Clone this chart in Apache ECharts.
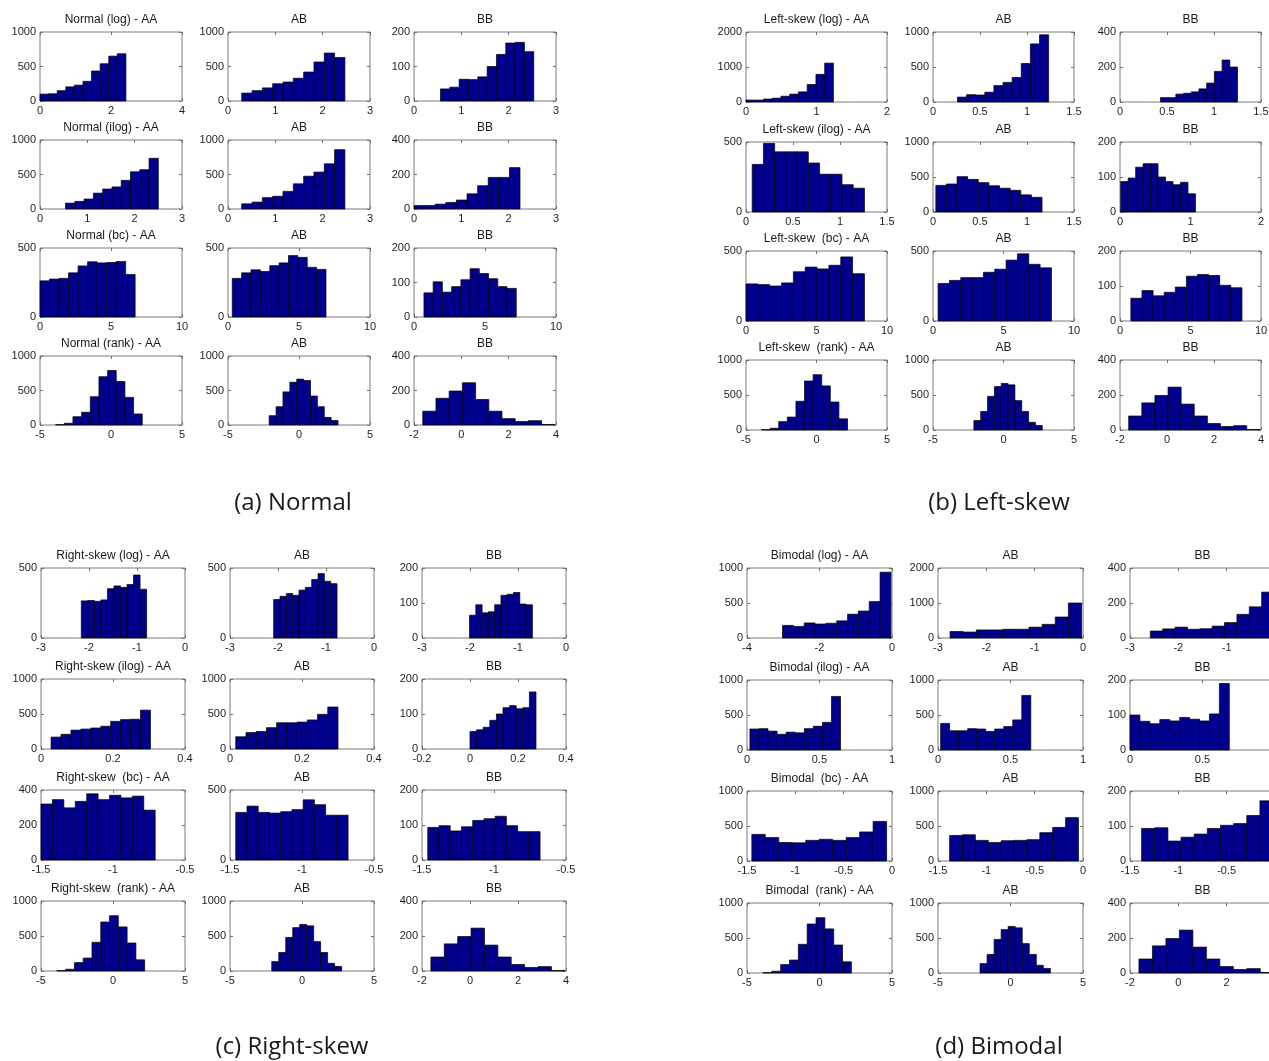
<!DOCTYPE html>
<html><head><meta charset="utf-8">
<script src="https://cdn.jsdelivr.net/npm/echarts@6/dist/echarts.min.js"></script>
<style>html,body{margin:0;padding:0;background:#fff}#c{width:1269px;height:1061px}</style>
</head><body><div id="c"></div><script>
// ---------- labels ----------
const panelLabels = ['(a) Normal', '(b) Left-skew', '(c) Right-skew', '(d) Bimodal'];
const rowTitlesA = ['Normal (log) - AA', 'Normal (ilog) - AA', 'Normal (bc) - AA', 'Normal (rank) - AA'];
const rowTitlesB = ['Left-skew (log) - AA', 'Left-skew (ilog) - AA', 'Left-skew  (bc) - AA', 'Left-skew  (rank) - AA'];
const rowTitlesC = ['Right-skew (log) - AA', 'Right-skew (ilog) - AA', 'Right-skew  (bc) - AA', 'Right-skew  (rank) - AA'];
const rowTitlesD = ['Bimodal (log) - AA', 'Bimodal (ilog) - AA', 'Bimodal  (bc) - AA', 'Bimodal  (rank) - AA'];
const colTitles = [null, 'AB', 'BB'];

// ---------- histogram counts (10 bins each) ----------
const normLogAA = [100, 105, 150, 205, 230, 285, 435, 540, 650, 685];
const normLogAB = [115, 150, 190, 250, 275, 330, 420, 565, 695, 630];
const normLogBB = [35, 40, 63, 62, 70, 100, 135, 168, 170, 143];
const normIlogAA = [85, 110, 145, 230, 290, 320, 415, 540, 570, 735];
const normIlogAB = [75, 100, 165, 185, 255, 365, 475, 535, 655, 860];
const normIlogBB = [20, 20, 28, 38, 52, 88, 135, 183, 183, 240];
const normBcAA = [262, 275, 280, 320, 370, 400, 392, 395, 402, 308];
const normBcAB = [280, 320, 342, 330, 372, 392, 445, 432, 360, 345];
const normBcBB = [70, 102, 72, 88, 108, 140, 126, 111, 88, 83];

const lsLogAA = [55, 55, 85, 110, 165, 225, 290, 500, 790, 1110];
const lsLogAB = [70, 105, 100, 140, 235, 280, 350, 550, 830, 960];
const lsLogBB = [25, 25, 45, 50, 58, 75, 108, 175, 240, 200];
const lsIlogAA = [340, 490, 430, 430, 430, 350, 270, 270, 195, 170];
const lsIlogAB = [380, 400, 505, 465, 420, 375, 340, 310, 245, 210];
const lsIlogBB = [87, 97, 128, 138, 138, 100, 87, 78, 85, 52];
const lsBcAA = [265, 260, 250, 272, 352, 385, 372, 398, 458, 338];
const lsBcAB = [268, 290, 310, 310, 348, 370, 435, 480, 405, 380];
const lsBcBB = [65, 87, 72, 82, 97, 128, 133, 130, 102, 95];

const rsLogAA = [265, 268, 262, 272, 352, 372, 362, 382, 450, 348];
const rsLogAB = [275, 298, 318, 305, 342, 362, 418, 460, 405, 388];
const rsLogBB = [65, 95, 72, 75, 95, 122, 125, 130, 97, 95];
const rsIlogAA = [170, 210, 270, 285, 300, 325, 395, 420, 425, 555];
const rsIlogAB = [175, 235, 250, 305, 375, 375, 385, 415, 495, 600];
const rsIlogBB = [50, 55, 62, 82, 100, 118, 124, 115, 118, 163];
const rsBcAA = [320, 345, 298, 335, 378, 345, 370, 355, 365, 285];
const rsBcAB = [340, 385, 340, 335, 345, 360, 430, 395, 320, 320];
const rsBcBB = [93, 98, 83, 95, 113, 118, 125, 98, 81, 81];

const bmLogAA = [180, 165, 215, 200, 210, 245, 340, 385, 520, 940];
const bmLogAB = [185, 170, 230, 230, 250, 250, 310, 390, 600, 1000];
const bmLogBB = [40, 52, 62, 50, 53, 68, 88, 135, 178, 262];
const bmIlogAA = [300, 305, 270, 225, 255, 245, 305, 340, 395, 765];
const bmIlogAB = [380, 275, 275, 305, 300, 265, 300, 335, 430, 780];
const bmIlogBB = [100, 82, 75, 87, 83, 93, 88, 83, 103, 190];
const bmBcAA = [380, 335, 265, 260, 295, 310, 295, 335, 415, 565];
const bmBcAB = [365, 375, 295, 265, 290, 295, 305, 405, 480, 620];
const bmBcBB = [93, 95, 57, 68, 77, 93, 102, 107, 130, 172];

const rankAA = [5, 25, 120, 185, 410, 700, 790, 630, 400, 160];
const rankAB = [135, 265, 480, 620, 665, 645, 420, 265, 110, 65];
const rankBB = [80, 155, 197, 245, 148, 80, 37, 20, 25, 3];

// ---------- bin ranges [first edge, last edge] per row: AA, AB, BB ----------
const normRanges = [
  [[0, 2.42], [0.29, 2.47], [0.56, 2.53]],
  [[0.54, 2.5], [0.29, 2.47], [0.0, 2.24]],
  [[0, 6.7], [0.3, 6.9], [0.7, 7.2]]
];
const lsRanges = [
  [[0, 1.24], [0.26, 1.23], [0.43, 1.25]],
  [[0.066, 1.26], [0.03, 1.16], [0.01, 1.07]],
  [[0, 8.4], [0.36, 8.4], [0.77, 8.65]]
];
const rsRanges = [
  [[-2.16, -0.80], [-2.09, -0.77], [-2.01, -0.70]],
  [[0.028, 0.304], [0.016, 0.30], [0.0, 0.275]],
  [[-1.5, -0.707], [-1.46, -0.68], [-1.46, -0.68]]
];
const bmRanges = [
  [[-3.02, -0.03], [-2.75, -0.03], [-2.58, -0.02]],
  [[0.02, 0.645], [0.018, 0.64], [0.0, 0.685]],
  [[-1.45, -0.056], [-1.38, -0.047], [-1.38, -0.02]]
];
const rankRanges = [[-3.9, 2.2], [-2.1, 2.75], [-1.63, 3.95]];

// ---------- axis ticks: x [min,max,step], y [max,step] ----------
const rankXTicks = [[-5, 5, 5], [-5, 5, 5], [-2, 4, 2]];
const rankYTicks = [[1000, 500], [1000, 500], [400, 200]];
const normXTicks = [[[0, 4, 2], [0, 3, 1], [0, 3, 1]], [[0, 3, 1], [0, 3, 1], [0, 3, 1]], [[0, 10, 5], [0, 10, 5], [0, 10, 5]], rankXTicks];
const normYTicks = [[[1000, 500], [1000, 500], [200, 100]], [[1000, 500], [1000, 500], [400, 200]], [[500, 500], [500, 500], [200, 100]], rankYTicks];
const lsXTicks = [[[0, 2, 1], [0, 1.5, 0.5], [0, 1.5, 0.5]], [[0, 1.5, 0.5], [0, 1.5, 0.5], [0, 2, 1]], [[0, 10, 5], [0, 10, 5], [0, 10, 5]], rankXTicks];
const lsYTicks = [[[2000, 1000], [1000, 500], [400, 200]], [[500, 500], [1000, 500], [200, 100]], [[500, 500], [500, 500], [200, 100]], rankYTicks];
const rsXTicks = [[[-3, 0, 1], [-3, 0, 1], [-3, 0, 1]], [[0, 0.4, 0.2], [0, 0.4, 0.2], [-0.2, 0.4, 0.2]], [[-1.5, -0.5, 0.5], [-1.5, -0.5, 0.5], [-1.5, -0.5, 0.5]], rankXTicks];
const rsYTicks = [[[500, 500], [500, 500], [200, 100]], [[1000, 500], [1000, 500], [200, 100]], [[400, 200], [500, 500], [200, 100]], rankYTicks];
const bmXTicks = [[[-4, 0, 2], [-3, 0, 1], [-3, 0, 1]], [[0, 1, 0.5], [0, 1, 0.5], [0, 1, 0.5]], [[-1.5, 0, 0.5], [-1.5, 0, 0.5], [-1.5, 0, 0.5]], rankXTicks];
const bmYTicks = [[[1000, 500], [2000, 1000], [400, 200]], [[1000, 500], [1000, 500], [200, 100]], [[1000, 500], [1000, 500], [200, 100]], rankYTicks];

// ---------- assemble ----------
const quads = [
  { titles: rowTitlesA, counts: [[normLogAA, normLogAB, normLogBB], [normIlogAA, normIlogAB, normIlogBB], [normBcAA, normBcAB, normBcBB], [rankAA, rankAB, rankBB]], ranges: normRanges.concat([rankRanges]), xt: normXTicks, yt: normYTicks },
  { titles: rowTitlesB, counts: [[lsLogAA, lsLogAB, lsLogBB], [lsIlogAA, lsIlogAB, lsIlogBB], [lsBcAA, lsBcAB, lsBcBB], [rankAA, rankAB, rankBB]], ranges: lsRanges.concat([rankRanges]), xt: lsXTicks, yt: lsYTicks },
  { titles: rowTitlesC, counts: [[rsLogAA, rsLogAB, rsLogBB], [rsIlogAA, rsIlogAB, rsIlogBB], [rsBcAA, rsBcAB, rsBcBB], [rankAA, rankAB, rankBB]], ranges: rsRanges.concat([rankRanges]), xt: rsXTicks, yt: rsYTicks },
  { titles: rowTitlesD, counts: [[bmLogAA, bmLogAB, bmLogBB], [bmIlogAA, bmIlogAB, bmIlogBB], [bmBcAA, bmBcAB, bmBcBB], [rankAA, rankAB, rankBB]], ranges: bmRanges.concat([rankRanges]), xt: bmXTicks, yt: bmYTicks }
];

// layout (pixels)
const layouts = [
  { cols: [40, 228, 414], w: 142, rows: [32, 140, 248, 356], h: 69, label: [293, 503] },
  { cols: [746, 933, 1120], w: 141, rows: [32, 142, 251, 360], h: 70, label: [999, 503] },
  { cols: [41, 230, 422], w: 144, rows: [568, 679, 790, 901], h: 70, label: [292, 1047] },
  { cols: [747, 938, 1130], w: 145, rows: [568, 680, 791, 903], h: 70, label: [999, 1047] }
];

const FONT = '"Liberation Sans", Arial, sans-serif';
const BAR = '#00008C';
const grids = [], xAxes = [], yAxes = [], series = [], graphics = [];
const plainNum = v => String(Math.round(v * 1000) / 1000);

function binData(cnts, range) {
  const n = cnts.length, w = (range[1] - range[0]) / n;
  return cnts.map((c, i) => [range[0] + i * w, range[0] + (i + 1) * w, c]);
}

quads.forEach((q, qi) => {
  const L = layouts[qi];
  graphics.push({ type: 'text', x: L.label[0], y: L.label[1], silent: true,
    style: { text: panelLabels[qi], font: '24px "Open Sans", Lato, sans-serif', fill: '#1a1a1a', align: 'center', verticalAlign: 'middle', textAlign: 'center', textVerticalAlign: 'middle' } });
  for (let r = 0; r < 4; r++) {
    for (let c = 0; c < 3; c++) {
      const gi = grids.length;
      const left = L.cols[c], top = L.rows[r];
      grids.push({ left: left, top: top, width: L.w, height: L.h, show: true, borderColor: '#7a7a7a', borderWidth: 1,
        backgroundColor: 'transparent', containLabel: false, outerBoundsMode: 'none' });
      const [xmin, xmax, xstep] = q.xt[r][c];
      const [ymax, ystep] = q.yt[r][c];
      const tick = { show: true, inside: true, length: 3, lineStyle: { color: '#707070', width: 1 } };
      const line = { show: false, onZero: false };
      xAxes.push({ type: 'value', gridIndex: gi, position: 'bottom', min: xmin, max: xmax, interval: xstep,
        axisLine: line, axisTick: tick, splitLine: { show: false },
        axisLabel: { fontFamily: FONT, fontSize: 11, color: '#1e1e1e', margin: 4, showMinLabel: true, showMaxLabel: true, formatter: plainNum } });
      xAxes.push({ type: 'value', gridIndex: gi, position: 'top', min: xmin, max: xmax, interval: xstep,
        axisLine: line, axisTick: tick, splitLine: { show: false }, axisLabel: { show: false } });
      yAxes.push({ type: 'value', gridIndex: gi, position: 'left', min: 0, max: ymax, interval: ystep,
        axisLine: line, axisTick: tick, splitLine: { show: false },
        axisLabel: { fontFamily: FONT, fontSize: 11, color: '#1e1e1e', margin: 4, showMinLabel: true, showMaxLabel: true, formatter: plainNum } });
      yAxes.push({ type: 'value', gridIndex: gi, position: 'right', min: 0, max: ymax, interval: ystep,
        axisLine: line, axisTick: tick, splitLine: { show: false }, axisLabel: { show: false } });
      series.push({
        type: 'custom', xAxisIndex: gi * 2, yAxisIndex: gi * 2, silent: true, animation: false,
        data: binData(q.counts[r][c], q.ranges[r][c]),
        renderItem: function (params, api) {
          const p0 = api.coord([api.value(0), 0]);
          const p1 = api.coord([api.value(1), api.value(2)]);
          return { type: 'rect', shape: { x: p0[0], y: p1[1], width: p1[0] - p0[0], height: p0[1] - p1[1] },
            style: { fill: BAR, stroke: '#000000', lineWidth: 0.7 } };
        }
      });
      const t = c === 0 ? q.titles[r] : colTitles[c];
      graphics.push({ type: 'text', x: left + L.w / 2, y: top - 12, silent: true,
        style: { text: t, font: '12px ' + FONT, fill: '#1a1a1a', align: 'center', verticalAlign: 'middle', textAlign: 'center', textVerticalAlign: 'middle' } });
    }
  }
});

const chart = echarts.init(document.getElementById('c'), null, { renderer: 'canvas' });
chart.setOption({ animation: false, backgroundColor: '#ffffff', grid: grids, xAxis: xAxes, yAxis: yAxes, series: series, graphic: graphics });
</script></body></html>
